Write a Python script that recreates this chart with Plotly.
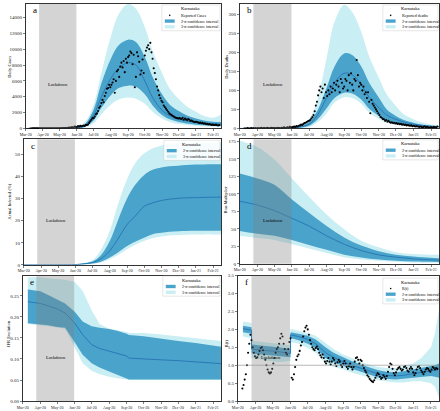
import plotly.graph_objects as go
import pandas as pd

W, H = 440, 411
FONT = "Liberation Serif"
LIGHT = "#c9eef3"
DARK = "#4aa3cb"
MED = "#2a79b5"

# ---------------- data ----------------
AB_DATES = ["2020-03-01", "2020-04-01", "2020-05-01", "2020-06-01", "2020-06-15", "2020-07-01",
            "2020-07-15", "2020-08-01", "2020-08-15", "2020-09-01", "2020-09-15", "2020-10-01",
            "2020-10-15", "2020-11-01", "2020-11-15", "2020-12-01", "2020-12-15", "2021-01-01",
            "2021-01-15", "2021-02-01", "2021-02-15"]

cases_med = [0, 5, 20, 80, 350, 1700, 4000, 6300, 7600, 8300, 8000, 6000, 3900, 2300, 1600, 1200, 950, 780, 650, 560, 520]
cases_s2_hi = [0, 10, 40, 150, 550, 2400, 5700, 8800, 10500, 11200, 10900, 9000, 6500, 4300, 3000, 2200, 1650, 1250, 1000, 850, 800]
cases_s2_lo = [0, 2, 8, 30, 180, 1000, 2600, 4200, 5100, 5400, 5250, 4300, 2900, 1700, 1150, 800, 620, 480, 400, 340, 300]
cases_s3_hi = [0, 20, 80, 250, 800, 3000, 7000, 11600, 14400, 15700, 15100, 12800, 9800, 7000, 5000, 3700, 2800, 2100, 1600, 1350, 1800]
cases_s3_lo = [0, 1, 4, 15, 100, 650, 1800, 3000, 3650, 3900, 3750, 3100, 2100, 1250, 800, 550, 420, 330, 280, 240, 220]

deaths_med = [0, 0.5, 1, 2, 4, 11, 33, 81, 120, 145, 141, 115, 81, 55, 35, 24, 17, 11, 8.7, 6, 5]
deaths_s2_hi = [0, 1, 2, 4, 7, 17, 45, 107, 163, 197, 193, 163, 120, 81, 50, 33, 22, 15, 10, 7, 5.5]
deaths_s2_lo = [0, 0.2, 0.5, 1, 2, 7, 22, 53, 80, 94, 92, 76, 52, 33, 21, 14, 10, 7, 5, 4, 3]
deaths_s3_hi = [0, 2, 3, 6, 10, 25, 72, 185, 280, 325, 306, 254, 189, 133, 89, 59, 37, 24, 16, 10, 7]
deaths_s3_lo = [0, 0.1, 0.3, 0.6, 1.5, 4, 15, 40, 68, 82, 80, 65, 42, 25, 15, 10, 7, 5, 4, 3, 2]

inf_med = [0, 0, 0.02, 0.1, 0.4, 1.0, 2.5, 6.3, 11.5, 18.3, 22, 26.5, 28, 29.2, 29.8, 30.2, 30.4, 30.5, 30.6, 30.7, 30.7]
inf_s2_hi = [0, 0, 0.03, 0.15, 0.6, 1.5, 4, 10.8, 19.8, 30.2, 36.2, 40.7, 43, 44.2, 44.8, 45, 45.3, 45.5, 45.6, 45.7, 45.7]
inf_s2_lo = [0, 0, 0.01, 0.05, 0.2, 0.6, 1.3, 3.3, 5.5, 8.5, 10.5, 12.3, 13.8, 14.5, 15.0, 15.2, 15.3, 15.4, 15.4, 15.4, 15.4]
inf_s3_hi = [0, 0, 0.05, 0.2, 0.8, 2.0, 6.3, 15.3, 27, 39, 46, 50.5, 52.7, 54.2, 55, 55.2, 55.3, 55.4, 55.4, 55.4, 55.4]
inf_s3_lo = [0, 0, 0.01, 0.03, 0.1, 0.4, 1.0, 2.5, 4.3, 7.0, 9.0, 10.8, 12.0, 12.8, 13.3, 13.5, 13.6, 13.7, 13.8, 13.8, 13.8]

D_DATES = ["2020-03-01", "2020-04-01", "2020-05-01", "2020-06-01", "2020-07-01", "2020-08-01", "2020-09-01",
           "2020-10-01", "2020-11-01", "2020-12-01", "2021-01-01", "2021-02-01", "2021-02-15"]
bias_med = [89.4, 84, 76, 65, 54, 40, 28, 19, 12.7, 9.4, 7, 5.6, 5.2]
bias_s2_hi = [129, 122, 113, 92, 73, 54, 37.6, 26, 18, 13, 10.3, 8.5, 8]
bias_s2_lo = [47, 43, 40, 34, 27, 20, 13, 9, 6, 4.2, 3.3, 2.8, 2.4]
bias_s3_hi = [176, 167, 149, 122, 96, 70.5, 49.4, 33, 23.5, 16.5, 14, 13, 13]
bias_s3_lo = [40, 36.7, 34, 28, 22, 15.5, 9.4, 6, 4.2, 2.8, 1.9, 1.4, 1.3]

E_DATES = ["2020-03-10", "2020-04-01", "2020-04-15", "2020-05-01", "2020-05-15", "2020-06-01", "2020-06-15",
           "2020-07-01", "2020-07-15", "2020-08-01", "2020-08-15", "2020-09-01", "2020-09-05", "2020-10-01",
           "2020-11-01", "2020-12-01", "2021-01-01", "2021-02-01", "2021-02-15"]
ifr_med = [0.236, 0.232, 0.226, 0.219, 0.209, 0.185, 0.158, 0.134, 0.125, 0.118, 0.113, 0.107, 0.102, 0.101, 0.098, 0.096, 0.093, 0.090, 0.089]
ifr_s2_hi = [0.265, 0.261, 0.252, 0.242, 0.232, 0.212, 0.189, 0.178, 0.174, 0.171, 0.167, 0.160, 0.157, 0.154, 0.148, 0.143, 0.138, 0.131, 0.129]
ifr_s2_lo = [0.185, 0.183, 0.180, 0.176, 0.174, 0.140, 0.110, 0.090, 0.080, 0.070, 0.062, 0.052, 0.051, 0.051, 0.051, 0.051, 0.051, 0.051, 0.051]
ifr_s3_hi = [0.294, 0.294, 0.292, 0.290, 0.288, 0.283, 0.262, 0.215, 0.183, 0.172, 0.169, 0.164, 0.162, 0.162, 0.158, 0.154, 0.150, 0.145, 0.143]
ifr_s3_lo = [0.183, 0.181, 0.178, 0.175, 0.172, 0.128, 0.090, 0.072, 0.064, 0.058, 0.054, 0.051, 0.050, 0.050, 0.050, 0.050, 0.050, 0.050, 0.050]

F_DATES = ["2020-03-10", "2020-03-25", "2020-03-25", "2020-04-15", "2020-05-10", "2020-06-01", "2020-06-01",
           "2020-06-15", "2020-07-01", "2020-07-15", "2020-08-01", "2020-08-15", "2020-09-01", "2020-09-15",
           "2020-10-01", "2020-10-15", "2020-11-01", "2020-11-15", "2020-12-01", "2020-12-15", "2021-01-01",
           "2021-01-15", "2021-02-01", "2021-02-08", "2021-02-15"]
rt_med = [2.02, 1.98, 1.45, 1.42, 1.38, 1.33, 1.85, 1.80, 1.72, 1.60, 1.35, 1.22, 1.10, 1.00, 0.92, 0.85, 0.76, 0.72, 0.70, 0.72, 0.76, 0.80, 0.84, 0.86, 0.88]
rt_s2_hi = [2.10, 2.06, 1.58, 1.55, 1.50, 1.45, 1.92, 1.88, 1.82, 1.72, 1.50, 1.35, 1.22, 1.12, 1.02, 0.95, 0.86, 0.82, 0.80, 0.83, 0.88, 0.92, 0.96, 1.00, 1.05]
rt_s2_lo = [1.92, 1.88, 1.33, 1.30, 1.26, 1.22, 1.76, 1.70, 1.60, 1.48, 1.20, 1.08, 0.98, 0.90, 0.82, 0.75, 0.66, 0.62, 0.60, 0.62, 0.65, 0.68, 0.70, 0.68, 0.65]
rt_s3_hi = [2.22, 2.18, 1.68, 1.65, 1.60, 1.55, 2.02, 1.96, 1.90, 1.82, 1.62, 1.45, 1.30, 1.20, 1.10, 1.02, 0.95, 0.92, 0.92, 0.98, 1.05, 1.20, 1.50, 1.90, 2.55]
rt_s3_lo = [1.80, 1.75, 1.20, 1.15, 1.08, 1.12, 1.65, 1.60, 1.48, 1.35, 1.05, 0.95, 0.88, 0.80, 0.72, 0.65, 0.58, 0.55, 0.52, 0.52, 0.55, 0.55, 0.50, 0.40, 0.10]

# observations every 2 days starting 2020-03-09
OBS_START = "2020-03-09"
reported_cases = [
    0, 1, 3, 5, 8, 10, 12, 14, 8, 10, 12, 15,
    14, 20, 15, 12, 18, 10, 15, 20, 25, 18, 12, 15, 22, 20, 25,
    30, 35, 25, 40, 50, 45, 60, 70, 100, 90, 130, 150, 120, 250, 200,
    180, 300, 250, 320, 280, 300, 380, 320, 420, 450, 500, 700, 900, 1100, 1300,
    1300, 1500, 1800, 1900, 2200, 2600, 2800, 3200, 3600, 3300, 4100, 4500, 5000, 5100, 5500, 5200,
    5500, 5800, 6200, 4500, 6000, 7200, 7400, 6500, 7800, 8300, 7700, 8500, 7100, 8800, 8300,
    9000, 9200, 9700, 9500, 8100, 9300, 5200, 6500, 9600, 9100, 8400, 6800, 7300, 8700, 7000,
    9200, 9800, 10200, 10500, 10000, 10800, 9600, 8800, 7600, 7000, 6200, 5300, 4800, 4200, 3800, 3500,
    3300, 2900, 2700, 2500, 2300, 2100, 1900, 1800, 1700, 1600, 1500, 1400, 1350, 1300, 1250,
    1300, 1250, 1200, 1350, 1100, 1250, 1150, 1050, 1200, 1100, 950, 1000, 900, 850, 800,
    850, 800, 750, 700, 750, 650, 700, 600, 650, 550, 600, 500, 550, 500, 450, 480,
    450, 420, 480, 400, 380, 420]
reported_deaths = [
    0, 0, 0, 1, 0, 0, 1, 0, 1, 0, 1, 0,
    1, 0, 1, 2, 0, 1, 1, 0, 2, 1, 0, 1, 2, 1, 1,
    1, 0, 2, 1, 1, 0, 2, 1, 3, 1, 2, 3, 2, 4, 3,
    3, 4, 5, 4, 6, 5, 7, 8, 10, 9, 12, 14, 15, 17, 19,
    20, 22, 26, 30, 35, 45, 60, 70, 87, 100, 110, 95, 105, 80, 115, 95,
    85, 100, 90, 110, 95, 105, 120, 100, 115, 125, 110, 95, 130, 120, 105,
    110, 130, 125, 100, 140, 120, 145, 115, 100, 130, 125, 180, 140, 110, 120,
    115, 100, 110, 90, 95, 80, 95, 70, 40, 75, 65, 60, 55, 50, 45, 40,
    35, 30, 28, 25, 24, 20, 22, 18, 20, 17, 15, 16, 14, 15, 13,
    14, 12, 13, 11, 12, 10, 11, 9, 10, 8, 9, 8, 7, 8, 6,
    7, 6, 5, 6, 5, 4, 5, 4, 3, 4, 5, 3, 4, 3, 2, 3,
    3, 2, 4, 3, 2, 5]
rt_obs = [
    0.35, 0.45, 0.6, 0.75, 1.0, 1.35, 1.6, 1.85, 1.7, 1.5, 1.35, 1.25,
    1.2, 1.22, 1.3, 1.4, 1.48, 1.5, 1.42, 1.3, 1.15, 1.0, 0.88, 0.8, 0.77, 0.8, 0.9,
    1.05, 1.2, 1.35, 1.45, 1.5, 1.6, 1.75, 1.88, 1.8, 1.6, 1.45, 1.35, 1.3, 1.45, 1.65,
    1.75, 0.65, 0.6, 0.75, 0.95, 1.15, 1.25, 1.3, 1.4, 1.55, 1.65, 1.8, 1.95, 2.05, 2.1,
    2.0, 1.85, 1.7, 1.6, 1.5, 1.45, 1.42, 1.48, 1.52, 1.45, 1.35, 1.28, 1.22, 1.3, 1.2, 1.1,
    1.05, 1.12, 1.2, 1.1, 1.02, 1.1, 1.2, 1.15, 1.05, 0.98, 1.08, 1.15, 1.1, 1.0, 0.95,
    1.05, 1.12, 1.05, 0.95, 0.9, 0.98, 1.05, 0.95, 0.88, 0.95, 1.1, 1.2, 1.22, 1.15, 1.05,
    1.15, 1.12, 1.0, 0.92, 0.85, 0.8, 0.72, 0.68, 0.62, 0.58, 0.55, 0.53, 0.58, 0.65, 0.72, 0.78,
    0.75, 0.68, 0.62, 0.65, 0.72, 0.68, 0.62, 0.7, 0.82, 0.95, 1.05, 1.02, 0.9, 0.78, 0.72,
    0.8, 0.88, 0.92, 0.95, 0.9, 0.85, 0.88, 0.95, 0.98, 0.92, 0.85, 0.82, 0.9, 0.95, 0.9,
    0.8, 0.72, 0.78, 0.88, 0.95, 0.98, 0.92, 0.85, 0.8, 0.75, 0.82, 0.88, 0.92, 0.9, 0.85, 0.82,
    0.88, 0.95, 0.92, 0.88, 0.92, 0.9]

LOCKDOWN = ("2020-03-25", "2020-05-31")
X_RANGE = ["2020-03-01", "2021-02-15"]

# ---------------- layout helpers ----------------
def px(x):
    return x / W

def py(y):
    return 1 - y / H

def sfx(i):
    return "" if i == 1 else str(i)

fig = go.Figure()
shapes, annos = [], []
layout = {}

panels = [
    dict(i=1, letter="a", box=(20, 218, 2, 128), yr=[0, 15700], tv=list(range(0, 14001, 2000)), fmt="d",
         ytitle="Daily Cases", tx=3.5, ty=65, dates=AB_DATES,
         bands=(cases_s3_lo, cases_s3_hi, cases_s2_lo, cases_s2_hi, cases_med), spline=True,
         obs=reported_cases, obs_name="Reported Cases", lg=(158, 217, 3)),
    dict(i=2, letter="b", box=(237, 439, 2, 128), yr=[0, 327], tv=list(range(0, 301, 50)), fmt="d",
         ytitle="Daily Deaths", tx=223.5, ty=65, dates=AB_DATES,
         bands=(deaths_s3_lo, deaths_s3_hi, deaths_s2_lo, deaths_s2_hi, deaths_med), spline=True,
         obs=reported_deaths, obs_name="Reported deaths", lg=(382, 438, 3)),
    dict(i=3, letter="c", box=(18, 218, 139, 266), yr=[0, 57], tv=list(range(0, 51, 10)), fmt="d",
         ytitle="Actual Infected (%)", tx=4, ty=202, dates=AB_DATES,
         bands=(inf_s3_lo, inf_s3_hi, inf_s2_lo, inf_s2_hi, inf_med), spline=True,
         obs=None, obs_name=None, lg=(160, 217, 140)),
    dict(i=4, letter="d", box=(237, 439, 139, 265), yr=[0, 178], tv=list(range(0, 176, 25)), fmt="d",
         ytitle="Bias Multiplier", tx=223, ty=200, dates=D_DATES,
         bands=(bias_s3_lo, bias_s3_hi, bias_s2_lo, bias_s2_hi, bias_med), spline=True,
         obs=None, obs_name=None, lg=(382, 438, 139.5)),
    dict(i=5, letter="e", box=(17, 218, 277, 404), yr=[0, 0.298], tv=[0, 0.05, 0.10, 0.15, 0.20, 0.25], fmt=".2f",
         ytitle="IFR Evolution", tx=3, ty=335, dates=E_DATES,
         bands=(ifr_s3_lo, ifr_s3_hi, ifr_s2_lo, ifr_s2_hi, ifr_med), spline=False,
         obs=None, obs_name=None, lg=(159, 217, 277.5)),
    dict(i=6, letter="f", box=(235, 439, 277, 404), yr=[0, 3.5], tv=[0, 0.5, 1.0, 1.5, 2.0, 2.5, 3.0, 3.5], fmt=".1f",
         ytitle="R(t)", tx=223.5, ty=345, dates=F_DATES,
         bands=(rt_s3_lo, rt_s3_hi, rt_s2_lo, rt_s2_hi, rt_med), spline=False,
         obs=rt_obs, obs_name="R(t)", lg=(382, 438, 279.5)),
]

for p in panels:
    i = p["i"]
    s = sfx(i)
    xa, ya = "x" + s, "y" + s
    shape = "spline" if p["spline"] else "linear"
    s3lo, s3hi, s2lo, s2hi, med = p["bands"]
    d = p["dates"]
    fig.add_trace(go.Scatter(x=d, y=s3lo, mode="lines", line=dict(width=0, shape=shape),
                             xaxis=xa, yaxis=ya, showlegend=False, hoverinfo="skip"))
    fig.add_trace(go.Scatter(x=d, y=s3hi, mode="lines", line=dict(width=0, shape=shape), fill="tonexty",
                             fillcolor=LIGHT, xaxis=xa, yaxis=ya, showlegend=False, hoverinfo="skip"))
    fig.add_trace(go.Scatter(x=d, y=s2lo, mode="lines", line=dict(width=0, shape=shape),
                             xaxis=xa, yaxis=ya, showlegend=False, hoverinfo="skip"))
    fig.add_trace(go.Scatter(x=d, y=s2hi, mode="lines", line=dict(width=0, shape=shape), fill="tonexty",
                             fillcolor=DARK, xaxis=xa, yaxis=ya, showlegend=False, hoverinfo="skip"))
    fig.add_trace(go.Scatter(x=d, y=med, mode="lines", line=dict(width=1.0, color=MED, shape=shape),
                             xaxis=xa, yaxis=ya, showlegend=False))
    if p["obs"] is not None:
        od = pd.date_range(OBS_START, periods=len(p["obs"]), freq="2D")
        fig.add_trace(go.Scatter(x=od, y=p["obs"], mode="markers",
                                 marker=dict(size=2.1, color="black"),
                                 xaxis=xa, yaxis=ya, showlegend=False))

    x0, x1, y0, y1 = p["box"]
    axis_common = dict(showline=True, mirror=True, linecolor="black", linewidth=0.8,
                       ticks="outside", ticklen=2, tickwidth=0.5, tickcolor="black",
                       showgrid=False, zeroline=False, fixedrange=True)
    layout["xaxis" + s] = dict(domain=[px(x0), px(x1)], anchor=ya, type="date", range=X_RANGE,
                               tick0="2020-03-01", dtick="M1", tickformat="%b-%y",
                               tickfont=dict(size=4, family=FONT, color="#222"), **axis_common)
    layout["yaxis" + s] = dict(domain=[py(y1), py(y0)], anchor=xa, range=p["yr"], tickvals=p["tv"],
                               tickformat=p["fmt"], tickfont=dict(size=5, family=FONT, color="#222"),
                               **axis_common)

    # lockdown band
    shapes.append(dict(type="rect", xref=xa, yref=ya + " domain", x0=LOCKDOWN[0], x1=LOCKDOWN[1],
                       y0=0, y1=1, fillcolor="rgba(128,128,128,0.34)", line=dict(width=0), layer="above"))
    annos.append(dict(xref=xa, yref=ya + " domain", x="2020-04-28", y=0.315, text="Lockdown",
                      showarrow=False, font=dict(size=4.5, family=FONT, color="black")))
    # panel letter
    annos.append(dict(xref="paper", yref="paper", x=px(x0 + 5), y=py(y0 + 6.5), text=p["letter"],
                      showarrow=False, xanchor="left", yanchor="middle",
                      font=dict(size=9, family=FONT, color="black")))
    # y title
    annos.append(dict(xref="paper", yref="paper", x=px(p["tx"]), y=py(p["ty"]), text=p["ytitle"],
                      textangle=-90, showarrow=False, xanchor="center", yanchor="middle",
                      font=dict(size=4.5, family=FONT, color="black")))

    # legend box
    lx0, lx1, ly0 = p["lg"]
    entries = []
    if p["obs_name"]:
        entries.append(("dot", p["obs_name"]))
    entries += [("dark", "2-\u03c3 confidence interval"), ("light", "3-\u03c3 confidence interval")]
    ly1 = ly0 + 10.5 + (len(entries) - 1) * 5.8 + 4
    shapes.append(dict(type="rect", xref="paper", yref="paper", x0=px(lx0), x1=px(lx1), y0=py(ly1), y1=py(ly0),
                       fillcolor="rgba(255,255,255,0.85)", line=dict(color="#cfcfcf", width=0.5), layer="above"))
    annos.append(dict(xref="paper", yref="paper", x=px((lx0 + lx1) / 2), y=py(ly0 + 4), text="Karnataka",
                      showarrow=False, xanchor="center", yanchor="middle",
                      font=dict(size=4.5, family=FONT, color="black")))
    for k, (kind, label) in enumerate(entries):
        yy = ly0 + 10.5 + k * 5.8
        if kind == "dot":
            shapes.append(dict(type="circle", xref="paper", yref="paper", x0=px(lx0 + 7.2), x1=px(lx0 + 8.8),
                               y0=py(yy + 0.8), y1=py(yy - 0.8), fillcolor="black", line=dict(width=0),
                               layer="above"))
        else:
            shapes.append(dict(type="rect", xref="paper", yref="paper", x0=px(lx0 + 3), x1=px(lx0 + 13),
                               y0=py(yy + 1.7), y1=py(yy - 1.7), fillcolor=DARK if kind == "dark" else LIGHT,
                               line=dict(width=0), layer="above"))
        annos.append(dict(xref="paper", yref="paper", x=px(lx0 + 17), y=py(yy), text=label,
                          showarrow=False, xanchor="left", yanchor="middle",
                          font=dict(size=4, family=FONT, color="black")))

# R(t)=1 reference line in panel f
shapes.append(dict(type="line", xref="x6 domain", yref="y6", x0=0, x1=1, y0=1, y1=1,
                   line=dict(color="#999999", width=0.7), layer="above"))

fig.update_layout(width=W, height=H, margin=dict(l=0, r=0, t=0, b=0), autosize=False,
                  paper_bgcolor="white", plot_bgcolor="white", showlegend=False, hovermode=False,
                  shapes=shapes, annotations=annos, font=dict(family=FONT), **layout)
fig.write_html("out.html", config={"displayModeBar": False, "staticPlot": True},
               post_script="document.body.style.margin='0';document.body.style.overflow='hidden';")
